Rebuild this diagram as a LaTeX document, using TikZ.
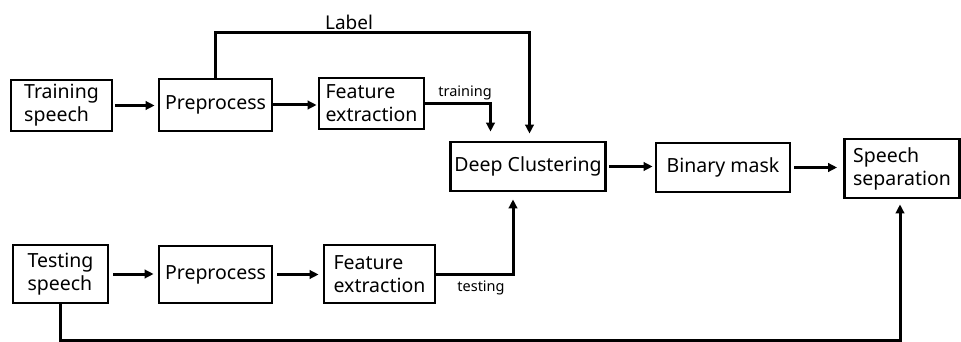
\documentclass[tikz,border=0pt]{standalone}
\usepackage{fontspec}
\setmainfont{Noto Sans}
\usetikzlibrary{positioning, calc, arrows.meta}

\begin{document}
\begin{tikzpicture}[x = 1pt, y = -1pt]
\begin{scope}[
	blk/.style={draw, line width=2.8pt, inner sep=1pt, align=left,
		font=\fontsize{19.5}{23}\selectfont},
	arr/.style={line width=3pt, -{Triangle[length=9pt, width=8.5pt]}},
	tag/.style={font=\fontsize{14.5}{16}\selectfont}
]
\useasboundingbox (0, 0) rectangle (961, 342);
% training branch
\node[blk, minimum width=101pt, minimum height=51pt] (train-speech) at (61.5, 105.5) {Training\\speech};
\node[blk, minimum width=113pt, minimum height=52pt] (prep-top) at (215.5, 105) {Preprocess};
\node[blk, minimum width=105pt, minimum height=51pt] (feat-top) at (371.5, 103.5) {Feature\\extraction};
% testing branch
\node[blk, minimum width=95pt, minimum height=58pt] (test-speech) at (60.5, 274) {Testing\\speech};
\node[blk, minimum width=113pt, minimum height=57pt] (prep-bot) at (215.5, 274.5) {Preprocess};
\node[blk, minimum width=111pt, minimum height=58pt] (feat-bot) at (379.5, 274) {Feature\\extraction};
% output chain
\node[blk, minimum width=155pt, minimum height=49pt] (dc) at (528, 166.5) {Deep Clustering};
\node[blk, minimum width=134pt, minimum height=49pt] (mask) at (723, 167.5) {Binary mask};
\node[blk, minimum width=115pt, minimum height=59pt] (sep) at (902, 168.5) {Speech\\separation};

\coordinate (lbl-turn) at (529.5, 33);
\coordinate (trn-turn) at (490.5, 103);
\coordinate (tst-turn) at (513, 275);
\coordinate (back-turn) at (900, 340);

\draw[arr, shorten <=2pt, shorten >=3pt] (train-speech.east) -- (train-speech.east -| prep-top.west);
\draw[arr, shorten >=1pt] (prep-top.east) -- (prep-top.east -| feat-top.west);
\draw[arr, shorten <=4pt, shorten >=4pt] (test-speech.east) -- (test-speech.east -| prep-bot.west);
\draw[arr, shorten <=4pt, shorten >=4pt] (prep-bot.east) -- (prep-bot.east -| feat-bot.west);
\draw[arr, shorten >=7pt] (prep-top.north) |- (lbl-turn) -- (lbl-turn |- dc.north);
\draw[arr, shorten >=9pt] (feat-top.east) -- (feat-top.east -| trn-turn) -- (trn-turn |- dc.north);
\draw[arr, shorten >=7pt] (feat-bot.east) -- (feat-bot.east -| tst-turn) -- (tst-turn |- dc.south);
\draw[arr, shorten <=2pt, shorten >=2pt] (dc.east) -- (dc.east -| mask.west);
\draw[arr, shorten <=3pt, shorten >=6pt] (mask.east) -- (mask.east -| sep.west);
\draw[arr, shorten >=5pt] (test-speech.south) |- (back-turn) -- (back-turn |- sep.south);

\node[font=\fontsize{19}{22}\selectfont] (label-txt) at (349, 22) {Label};
\node[tag] (trn-txt) at (465, 93) {training};
\node[tag] (tst-txt) at (481, 288) {testing};
\end{scope}
\end{tikzpicture}
\end{document}
